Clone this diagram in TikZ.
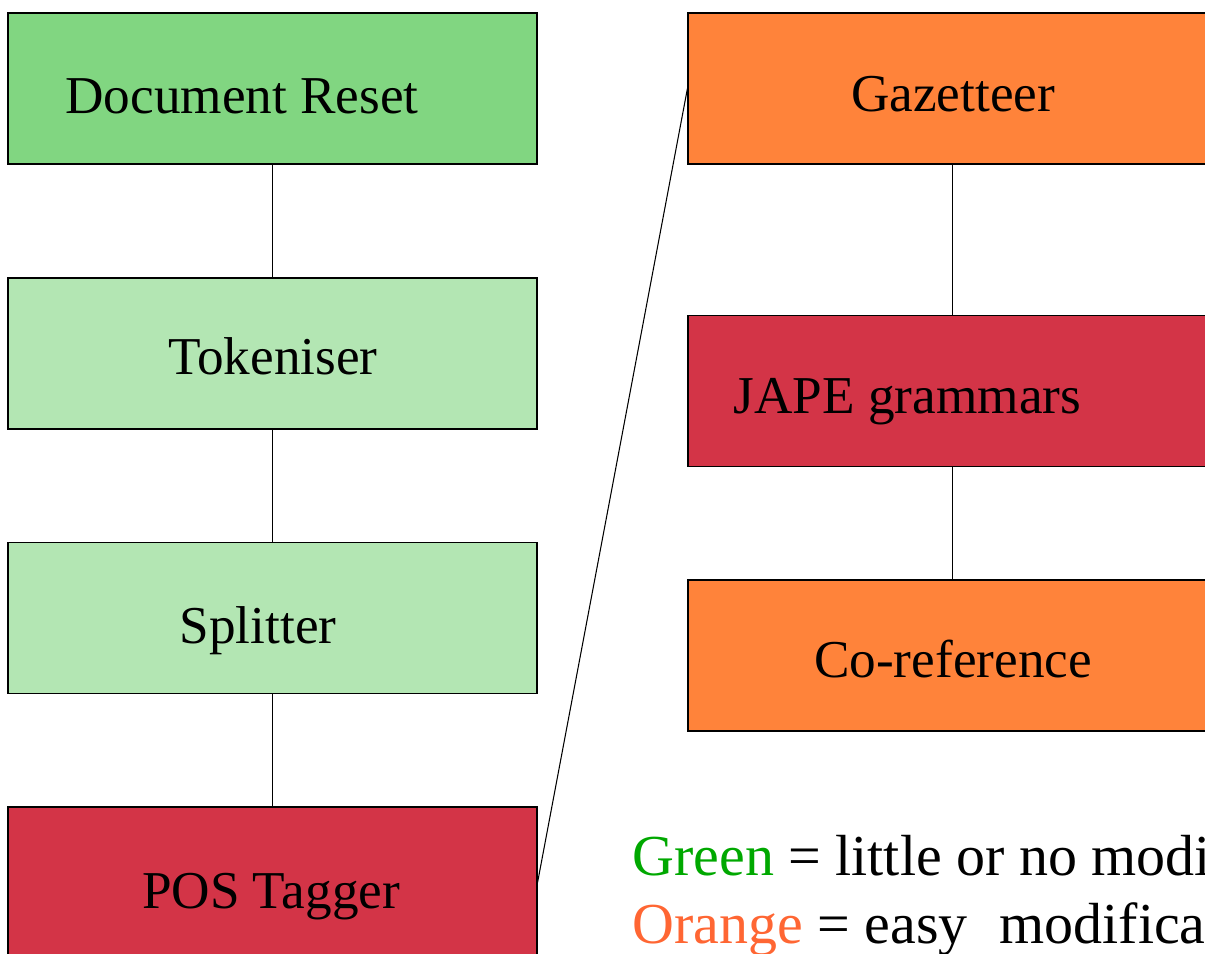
\documentclass[tikz,border=0pt]{standalone}
\usepackage{fontspec}
\setmainfont{Liberation Serif}
\usetikzlibrary{calc}

\definecolor{resetgreen}{RGB}{129,214,129}
\definecolor{palegreen}{RGB}{179,230,179}
\definecolor{gatered}{RGB}{211,52,71}
\definecolor{gateorange}{RGB}{255,131,58}
\definecolor{keygreen}{RGB}{0,168,0}
\definecolor{keyorange}{RGB}{255,102,51}

\begin{document}
\begin{tikzpicture}[x=0.02cm, y=-0.02cm,
	pr/.style={draw=black, line width=0.7pt, rectangle, minimum width=10.58cm, minimum height=3.02cm, inner sep=0pt},
	lbl/.style={anchor=base, inner sep=0pt, font=\fontsize{30.3}{36}\selectfont},
	key/.style={anchor=base west, inner sep=0pt, font=\fontsize{33}{40}\selectfont},
	link/.style={draw=black, line width=0.6pt}]
	\useasboundingbox (0,0) rectangle (1205,954);
	\clip (0,0) rectangle (1205,954);
	\def\xl{272.5} % left column
	\def\xr{952.5} % right column
	
	% left column: the pipeline
	\node[pr, fill=resetgreen] (reset) at (\xl,88.5) {};
	\node[pr, fill=palegreen] (token) at (\xl,353.5) {};
	\node[pr, fill=palegreen] (split) at (\xl,618) {};
	\node[pr, fill=gatered] (pos) at (\xl,882.5) {};
	
	\node[lbl] (resettext) at (242,113) {Document Reset};
	\node[lbl] (tokentext) at (273,374) {Tokeniser};
	\node[lbl] (splittext) at (258,643) {Splitter};
	\node[lbl] (postext) at (271,908) {POS Tagger};
	
	% right column
	\node[pr, fill=gateorange] (gaz) at (\xr,88.5) {};
	\node[pr, fill=gatered] (jape) at (\xr,391) {};
	\node[pr, fill=gateorange] (coref) at (\xr,655.5) {};
	
	\node[lbl] (gaztext) at (953,111) {Gazetteer};
	\node[lbl] (japetext) at (907.5,413) {JAPE grammars};
	\node[lbl] (coreftext) at (953,677) {Co-reference};
	
	% connectors
	\draw[link] (reset) -- (token);
	\draw[link] (token) -- (split);
	\draw[link] (split) -- (pos);
	\draw[link] (pos.east) -- (gaz.west);
	\draw[link] (gaz) -- (jape);
	\draw[link] (jape) -- (coref);
	
	% colour key
	\node[key] (keyone) at (632,875) {\textcolor{keygreen}{Green} = little or no modification};
	\node[key] (keytwo) at (632,943) {\textcolor{keyorange}{Orange} = easy\hspace{0.55em}modification};
\end{tikzpicture}
\end{document}
